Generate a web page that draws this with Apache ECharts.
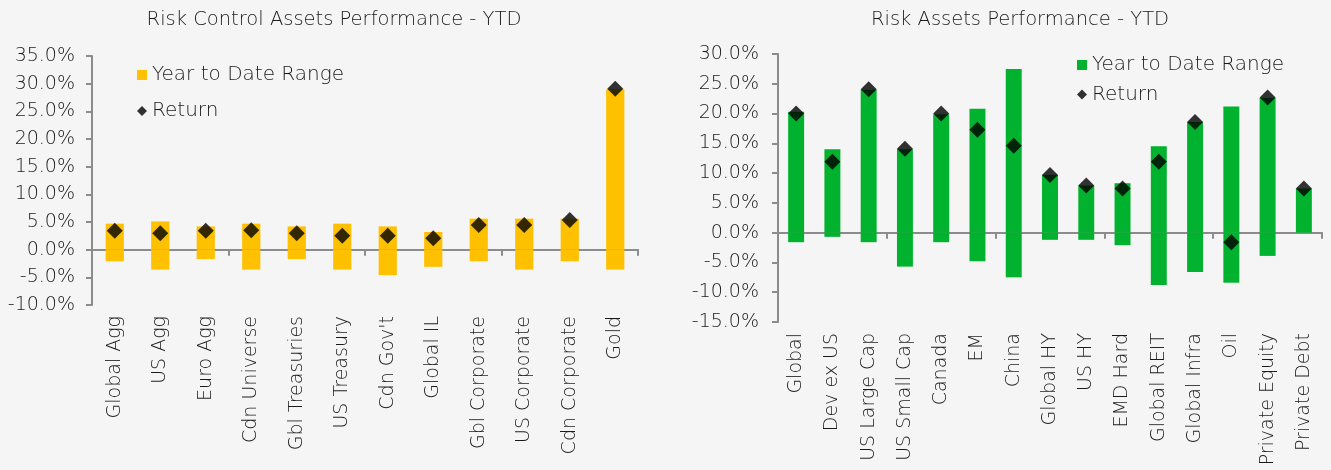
<!DOCTYPE html>
<html>
<head>
<meta charset="utf-8">
<script src="https://cdn.jsdelivr.net/npm/echarts@6/dist/echarts.min.js"></script>
<style>
html,body{margin:0;padding:0;background:#f5f5f5;}
#chart{width:1331px;height:470px;}
</style>
</head>
<body>
<div id="chart"></div>
<script>
// Left chart: Risk Control Assets
const leftCategories = ["Global Agg","US Agg","Euro Agg","Cdn Universe","Gbl Treasuries","US Treasury","Cdn Gov't","Global IL","Gbl Corporate","US Corporate","Cdn Corporate","Gold"];
const leftHigh   = [4.7, 5.1, 4.2, 4.7, 4.2, 4.7, 4.2, 3.2, 5.6, 5.6, 5.6, 29.0];
const leftLow    = [-2.1, -3.6, -1.7, -3.6, -1.7, -3.6, -4.6, -3.1, -2.1, -3.6, -2.1, -3.6];
const leftReturn = [3.4, 2.95, 3.4, 3.5, 2.95, 2.5, 2.5, 2.05, 4.45, 4.45, 5.35, 29.1];
const leftTicks  = {min: -10, max: 35, interval: 5};

// Right chart: Risk Assets
const rightCategories = ["Global","Dev ex US","US Large Cap","US Small Cap","Canada","EM","China","Global HY","US HY","EMD Hard","Global REIT","Global Infra","Oil","Private Equity","Private Debt"];
const rightHigh   = [20.3, 14.0, 24.0, 14.0, 19.9, 20.8, 27.5, 9.7, 7.9, 8.3, 14.5, 18.6, 21.2, 22.6, 7.4];
const rightLow    = [-1.6, -0.7, -1.6, -5.7, -1.6, -4.8, -7.5, -1.2, -1.2, -2.1, -8.8, -6.6, -8.4, -3.9, 0];
const rightReturn = [20.0, 11.9, 24.1, 14.1, 20.0, 17.3, 14.6, 9.7, 7.9, 7.4, 11.9, 18.6, -1.6, 22.7, 7.4];
const rightTicks  = {min: -15, max: 30, interval: 5};

const FONT = "DejaVu Sans";
const FW = 200;
const TXT = "#1a1a1a";
const AXIS = "#8c8c8c";
const GOLD = "#FFC000";
const GREEN = "#00B22D";

function yAxis(grid, t, margin){
  return {
    type:'value', gridIndex:grid, min:t.min, max:t.max, interval:t.interval,
    axisLine:{show:true, lineStyle:{color:AXIS, width:2}},
    axisTick:{show:true, length:6, lineStyle:{color:AXIS, width:2}},
    splitLine:{show:false},
    axisLabel:{formatter:v=>v.toFixed(1)+'%', color:TXT, fontSize:19, fontWeight:FW, fontFamily:FONT, margin:margin}
  };
}
function xAxes(grid, cats){
  return [
    { type:'category', gridIndex:grid, data:cats, position:'bottom',
      axisLine:{show:true, onZero:true, lineStyle:{color:AXIS, width:2}},
      axisTick:{show:true, length:6, lineStyle:{color:AXIS, width:2}},
      axisLabel:{show:false}, splitLine:{show:false} },
    { type:'category', gridIndex:grid, data:cats, position:'bottom',
      axisLine:{show:false, onZero:false}, axisTick:{show:false},
      axisLabel:{show:true, rotate:90, color:TXT, fontSize:19, fontWeight:FW, fontFamily:FONT, margin:11} }
  ];
}

const chart = echarts.init(document.getElementById('chart'));
chart.setOption({
  backgroundColor:'#f5f5f5',
  animation:false,
  title:[
    {text:'Risk Control Assets Performance - YTD', left:329, top:5, textAlign:'center',
     textStyle:{color:TXT, fontSize:19.5, fontWeight:FW, fontFamily:FONT}},
    {text:'Risk Assets Performance - YTD', left:1015, top:5, textAlign:'center',
     textStyle:{color:TXT, fontSize:19.5, fontWeight:FW, fontFamily:FONT}}
  ],
  legend:[
    {orient:'vertical', left:137, top:64, padding:0, itemGap:14, itemWidth:10, itemHeight:10,
     data:[{name:'Year to Date Range', icon:'rect', itemStyle:{color:GOLD}},{name:'Return', icon:'diamond'}],
     textStyle:{color:TXT, fontSize:20, fontWeight:FW, lineHeight:22, fontFamily:FONT}},
    {orient:'vertical', left:1077, top:54, padding:0, itemGap:7.6, itemWidth:10, itemHeight:10,
     data:[{name:'Year to Date Range ', icon:'rect', itemStyle:{color:GREEN}},{name:'Return ', icon:'diamond'}],
     textStyle:{color:TXT, fontSize:20, fontWeight:FW, lineHeight:22, fontFamily:FONT}}
  ],
  grid:[
    {left:92, right:693, top:56, bottom:165},
    {left:778, right:9, top:54, bottom:148}
  ],
  xAxis:[...xAxes(0, leftCategories), ...xAxes(1, rightCategories)],
  yAxis:[yAxis(0, leftTicks, 17), yAxis(1, rightTicks, 19)],
  series:[
    {name:'Year to Date Range', type:'bar', xAxisIndex:0, yAxisIndex:0, data:leftHigh, barWidth:'40%', barGap:'-100%', itemStyle:{color:GOLD}},
    {name:'Year to Date Range', type:'bar', xAxisIndex:0, yAxisIndex:0, data:leftLow, barWidth:'40%', barGap:'-100%', itemStyle:{color:GOLD}},
    {name:'Return', type:'scatter', xAxisIndex:0, yAxisIndex:0, data:leftReturn, symbol:'diamond', symbolSize:16, itemStyle:{color:'#000'}, z:5},
    {name:'Year to Date Range ', type:'bar', xAxisIndex:2, yAxisIndex:1, data:rightHigh, barWidth:'44%', barGap:'-100%', itemStyle:{color:GREEN}},
    {name:'Year to Date Range ', type:'bar', xAxisIndex:2, yAxisIndex:1, data:rightLow, barWidth:'44%', barGap:'-100%', itemStyle:{color:GREEN}},
    {name:'Return ', type:'scatter', xAxisIndex:2, yAxisIndex:1, data:rightReturn, symbol:'diamond', symbolSize:16, itemStyle:{color:'#000'}, z:5}
  ]
});
</script>
</body>
</html>
